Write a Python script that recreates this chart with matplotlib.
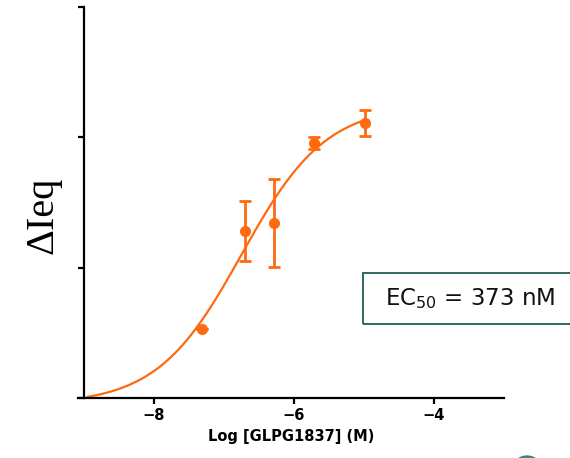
import numpy as np
import matplotlib
matplotlib.use('Agg')
import matplotlib.pyplot as plt
from matplotlib.patches import Rectangle, Ellipse

# data
log_conc = [-7.31, -6.70, -6.29, -5.71, -4.99]
response = [0.53, 1.285, 1.344, 1.954, 2.108]
err_lo = [0.0, 0.235, 0.34, 0.045, 0.095]
err_hi = [0.0, 0.225, 0.34, 0.045, 0.10]

# four parameter logistic fit (estimated from the drawn curve)
fit_bottom = -0.05
fit_top = 2.25
fit_logec = -6.75
fit_hill = 0.72
fit_start, fit_end = -8.95, -5.0

x_ticks = [-8, -6, -4]
y_ticks = [0, 1, 2, 3]
orange = '#ff6a10'

fig = plt.figure(figsize=(5.7, 4.58), dpi=100)
ax = fig.add_axes([78 / 570, 60 / 458, 426 / 570, 391 / 458])

xs = np.linspace(fit_start, fit_end, 300)
ys = fit_bottom + (fit_top - fit_bottom) / (1 + 10 ** ((fit_logec - xs) * fit_hill))
ax.plot(xs, ys, color=orange, lw=1.6, zorder=2)

ax.errorbar(log_conc, response, yerr=[err_lo, err_hi], fmt='o', color=orange,
            ms=7, elinewidth=2, capsize=4, capthick=2, zorder=3)

ax.set_xlim(-9.086, -3.0)
ax.set_ylim(0, 3)
ax.set_xticks(x_ticks)
ax.set_yticks(y_ticks)
ax.set_yticklabels([])
ax.spines['top'].set_visible(False)
ax.spines['right'].set_visible(False)
ax.spines['left'].set_position(('data', -9))
ax.spines['left'].set_linewidth(1.6)
ax.spines['bottom'].set_linewidth(1.6)
ax.tick_params(axis='both', length=4, width=1.6, direction='out')
for lab in ax.get_xticklabels():
    lab.set_fontweight('bold')
    lab.set_fontsize(10.5)
ax.set_xlabel('Log [GLPG1837] (M)', fontsize=10.5, fontweight='bold', labelpad=4)

fig.text(43 / 570, 1 - 215 / 458, 'ΔIeq', rotation=90, ha='center', va='center',
         fontsize=29, family='Liberation Serif')

# EC50 box, runs off the right edge
fig.patches.append(Rectangle((363 / 570, 1 - 324 / 458), 215 / 570, 51 / 458,
                             transform=fig.transFigure, fill=False,
                             edgecolor='#1f5c57', lw=1.3))
fig.text(470 / 570, 1 - 299 / 458, 'EC$_{50}$ = 373 nM', ha='center', va='center',
         fontsize=16.5, color='#111111')

# edge of a round logo peeking in at the bottom
fig.patches.append(Ellipse((527 / 570, 1 - 471 / 458), 30 / 570, 30 / 458,
                           transform=fig.transFigure, color='#2e6b66', alpha=0.8))

fig.savefig('out.png', dpi=100)
